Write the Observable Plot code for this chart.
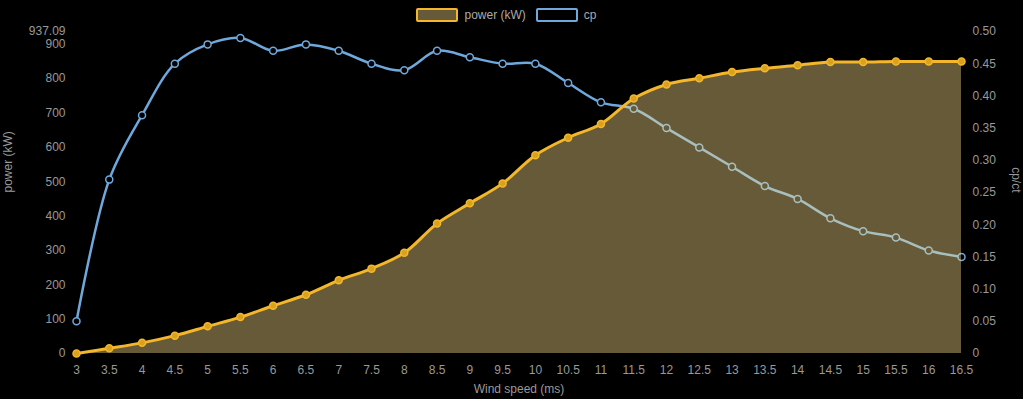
<!DOCTYPE html>
<html>
<head>
<meta charset="utf-8">
<script src="https://cdn.jsdelivr.net/npm/d3@7"></script>
<script src="https://cdn.jsdelivr.net/npm/@observablehq/plot@0.6"></script>
<style>
  html, body { margin: 0; padding: 0; background: #000; }
  body { width: 1023px; height: 399px; overflow: hidden; font-family: "Liberation Sans", Arial, sans-serif; }
  #legend { height: 24px; display: flex; align-items: center; justify-content: center; gap: 6px; font-size: 12px; color: #aaa; padding-top: 6px; box-sizing: border-box; margin-left: -6px; }
  .sw { width: 38px; height: 10px; border: 2px solid; border-radius: 2px; }
  .item { display: flex; align-items: center; gap: 6px; margin-right: 4px; }
</style>
</head>
<body>
<div id="legend"></div>
<div id="chart"></div>
<script>
const windSpeed = [3, 3.5, 4, 4.5, 5, 5.5, 6, 6.5, 7, 7.5, 8, 8.5, 9, 9.5, 10, 10.5, 11, 11.5, 12, 12.5, 13, 13.5, 14, 14.5, 15, 15.5, 16, 16.5];
const power = [0, 15, 31, 52, 79, 106, 139, 171, 213, 247, 293, 378, 437, 495, 577, 628, 668, 742, 783, 801, 819, 830, 839, 848, 848, 850, 850, 850];
const cp = [0.05, 0.27, 0.37, 0.45, 0.48, 0.49, 0.47, 0.48, 0.47, 0.45, 0.44, 0.47, 0.46, 0.45, 0.45, 0.42, 0.39, 0.38, 0.35, 0.32, 0.29, 0.26, 0.24, 0.21, 0.19, 0.18, 0.16, 0.15];
const powerTicks = [0, 100, 200, 300, 400, 500, 600, 700, 800, 900, 937.09];
const cpTicks = [0, 0.05, 0.1, 0.15, 0.2, 0.25, 0.3, 0.35, 0.4, 0.45, 0.5];
const powerMax = 937.09;
const cpMax = 0.5;

const powerColor = "#f4b62a";
const cpColor = "#6fa8dc";
const areaFill = "#ffe18e";
const labelColor = "#999";

const k = powerMax / cpMax;
const data = windSpeed.map((w, i) => ({w, power: power[i], cp: cp[i], cpS: cp[i] * k}));

// legend
const legend = document.getElementById("legend");
legend.innerHTML = `
  <div class="item"><div class="sw" style="border-color:${powerColor};background:#675a39"></div><span>power (kW)</span></div>
  <div class="item"><div class="sw" style="border-color:${cpColor};background:#000"></div><span>cp</span></div>`;

const curve = "catmull-rom";
const chart = Plot.plot({
  width: 1023,
  height: 375,
  marginTop: 7,
  marginBottom: 46,
  marginLeft: 76,
  marginRight: 62,
  style: {background: "#000", color: labelColor, fontSize: "12px", fontFamily: "'Liberation Sans', Arial, sans-serif"},
  x: {domain: [3, 16.5]},
  y: {domain: [0, powerMax]},
  marks: [
    Plot.axisX({ticks: windSpeed, tickSize: 0, tickPadding: 12, label: null, tickFormat: d => String(d), fill: labelColor}),
    Plot.axisY({ticks: powerTicks, tickSize: 0, tickPadding: 11, label: null, tickFormat: d => String(d), anchor: "left", fill: labelColor}),
    Plot.axisY({ticks: cpTicks.map(v => v * k), tickSize: 0, tickPadding: 11, label: null, anchor: "right",
      tickFormat: (d, i) => cpTicks[i] === 0 ? "0" : cpTicks[i].toFixed(2), fill: labelColor}),
    Plot.line(data, {x: "w", y: "cpS", stroke: cpColor, strokeWidth: 2.5, curve}),
    Plot.dot(data, {x: "w", y: "cpS", r: 3.5, stroke: cpColor, strokeWidth: 1.5, fill: "#000"}),
    Plot.areaY(data, {x: "w", y: "power", fill: areaFill, fillOpacity: 0.4, curve}),
    Plot.line(data, {x: "w", y: "power", stroke: powerColor, strokeWidth: 3, curve}),
    Plot.dot(data, {x: "w", y: "power", r: 3.5, stroke: powerColor, strokeWidth: 1.5, fill: "#d9a21e"}),
    Plot.text(["Wind speed (ms)"], {frameAnchor: "bottom", dy: 39, fill: labelColor}),
    Plot.text(["power (kW)"], {frameAnchor: "left", dx: -68, rotate: -90, fill: labelColor}),
    Plot.text(["cp/ct"], {frameAnchor: "right", dx: 54, rotate: 90, fill: labelColor})
  ]
});
document.getElementById("chart").appendChild(chart);
</script>
</body>
</html>
